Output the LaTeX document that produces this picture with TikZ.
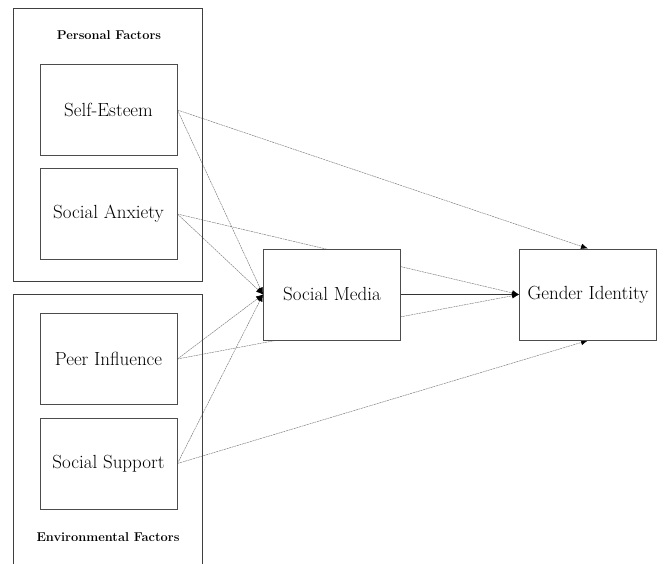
\documentclass[tikz,border=0pt]{standalone}
\usetikzlibrary{arrows.meta,backgrounds}
\begin{document}
\begin{tikzpicture}[x=1pt,y=-1pt,
  box/.style={draw=black!70,line width=0.9pt,fill=white,minimum width=137pt,minimum height=91pt,inner sep=0pt,font=\fontsize{19}{22}\selectfont},
  group/.style={draw=black!75,line width=0.9pt,inner sep=0pt},
  title/.style={font=\fontsize{12.8}{14}\selectfont\bfseries},
  link/.style={draw=black!50,line width=0.5pt,dash pattern=on 2pt off 0.7pt,-{Latex[length=7pt,width=5.5pt,black]}},
  main/.style={draw=black!80,line width=0.6pt,-{Latex[length=7pt,width=5.5pt,black]}}]
\useasboundingbox (0,0) rectangle (664,564);
% group frames
\node[group,minimum width=189pt,minimum height=273pt] (pf) at (107.5,144.5) {};
\node[title] (pft) at (109,35) {Personal Factors};
\coordinate (ef1) at (13,566);
\coordinate (ef2) at (13,294);
\coordinate (ef3) at (202,294);
\coordinate (ef4) at (202,566);
\draw[black!75,line width=0.9pt] (ef1) -- (ef2) -- (ef3) -- (ef4);
\node[title] (eft) at (108,537) {Environmental Factors};
% boxes
\node[box] (se) at (108.5,110) {Self-Esteem};
\node[box] (sa) at (108.5,214) {Social Anxiety};
\node[box] (pi) at (108.5,359) {Peer Influence};
\node[box] (ss) at (108.5,463.5) {Social Support};
\node[box] (sm) at (332,294.5) {Social Media};
\node[box] (gi) at (588,294.5) {Gender Identity};
\begin{pgfonlayer}{background}
\draw[link] (se.east) -- (gi.north);
\draw[link] (se.east) -- (sm.west);
\draw[link] (sa.east) -- (gi.west);
\draw[link] (sa.east) -- (sm.west);
\draw[link] (pi.east) -- (sm.west);
\draw[link] (pi.east) -- (gi.west);
\draw[link] (ss.east) -- (sm.west);
\draw[link] (ss.east) -- (gi.south);
\end{pgfonlayer}
\draw[main] (sm.east) -- (gi.west);
\end{tikzpicture}
\end{document}
